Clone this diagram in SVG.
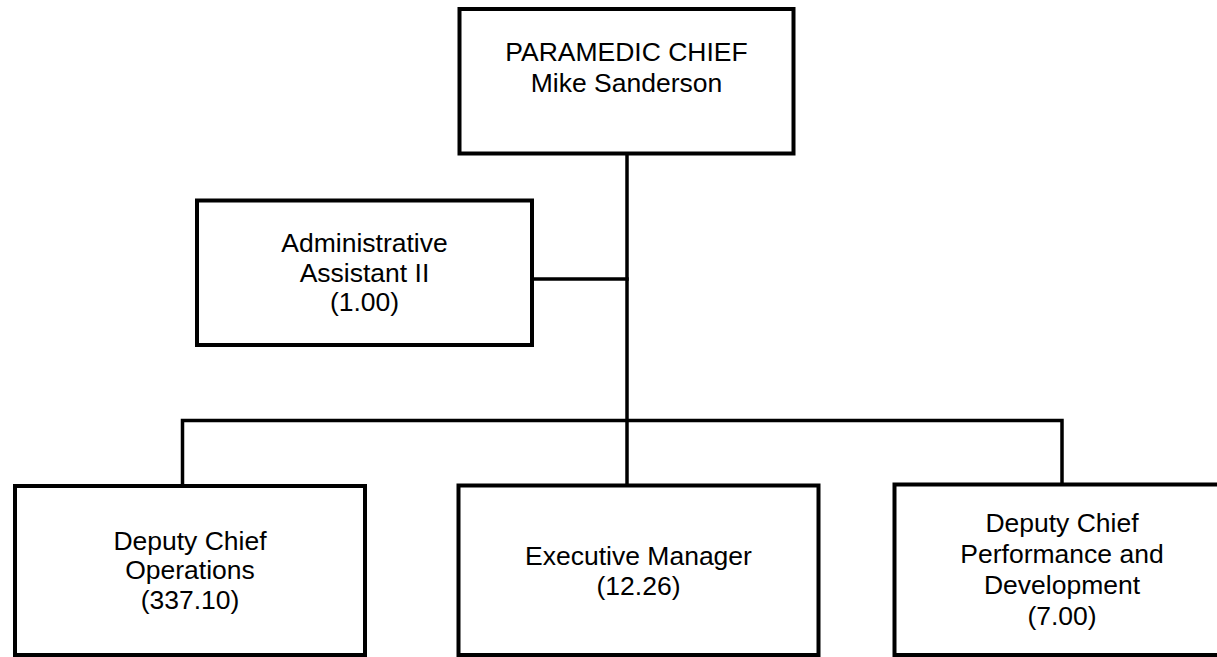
<svg xmlns="http://www.w3.org/2000/svg" width="1217" height="657" viewBox="0 0 1217 657">
<style>
.box{fill:#fff;stroke:#000;stroke-width:4}
.t{font-family:"Liberation Sans",Arial,sans-serif;font-size:26.5px;fill:#000;text-anchor:middle}
.c{fill:none;stroke:#000;stroke-width:3.5;stroke-linecap:square}
</style>
<rect width="1217" height="657" fill="#fff"/>
<g id="connectors">
<path class="c" d="M627 154 V485"/>
<path class="c" d="M532 279 H627"/>
<path class="c" d="M182.5 486 V420.5 H1062 V484.5"/>
</g>
<g id="chief">
<rect class="box" x="459.5" y="9" width="334" height="144.5"/>
<text class="t" x="626.5" y="60.5">PARAMEDIC CHIEF</text>
<text class="t" x="626.5" y="91.5">Mike Sanderson</text>
</g>
<g id="admin">
<rect class="box" x="197" y="200.5" width="335" height="144.5"/>
<text class="t" x="364.5" y="252">Administrative</text>
<text class="t" x="364.5" y="282">Assistant II</text>
<text class="t" x="364.5" y="311">(1.00)</text>
</g>
<g id="ops">
<rect class="box" x="15" y="486" width="350" height="169"/>
<text class="t" x="190" y="549.5">Deputy Chief</text>
<text class="t" x="190" y="579">Operations</text>
<text class="t" x="190" y="609">(337.10)</text>
</g>
<g id="exec">
<rect class="box" x="458.5" y="485.5" width="360" height="169.5"/>
<text class="t" x="638.5" y="565">Executive Manager</text>
<text class="t" x="638.5" y="595">(12.26)</text>
</g>
<g id="perf">
<rect class="box" x="894.5" y="484.5" width="335" height="170.5"/>
<text class="t" x="1062" y="532">Deputy Chief</text>
<text class="t" x="1062" y="563">Performance and</text>
<text class="t" x="1062" y="594">Development</text>
<text class="t" x="1062" y="625">(7.00)</text>
</g>
</svg>
